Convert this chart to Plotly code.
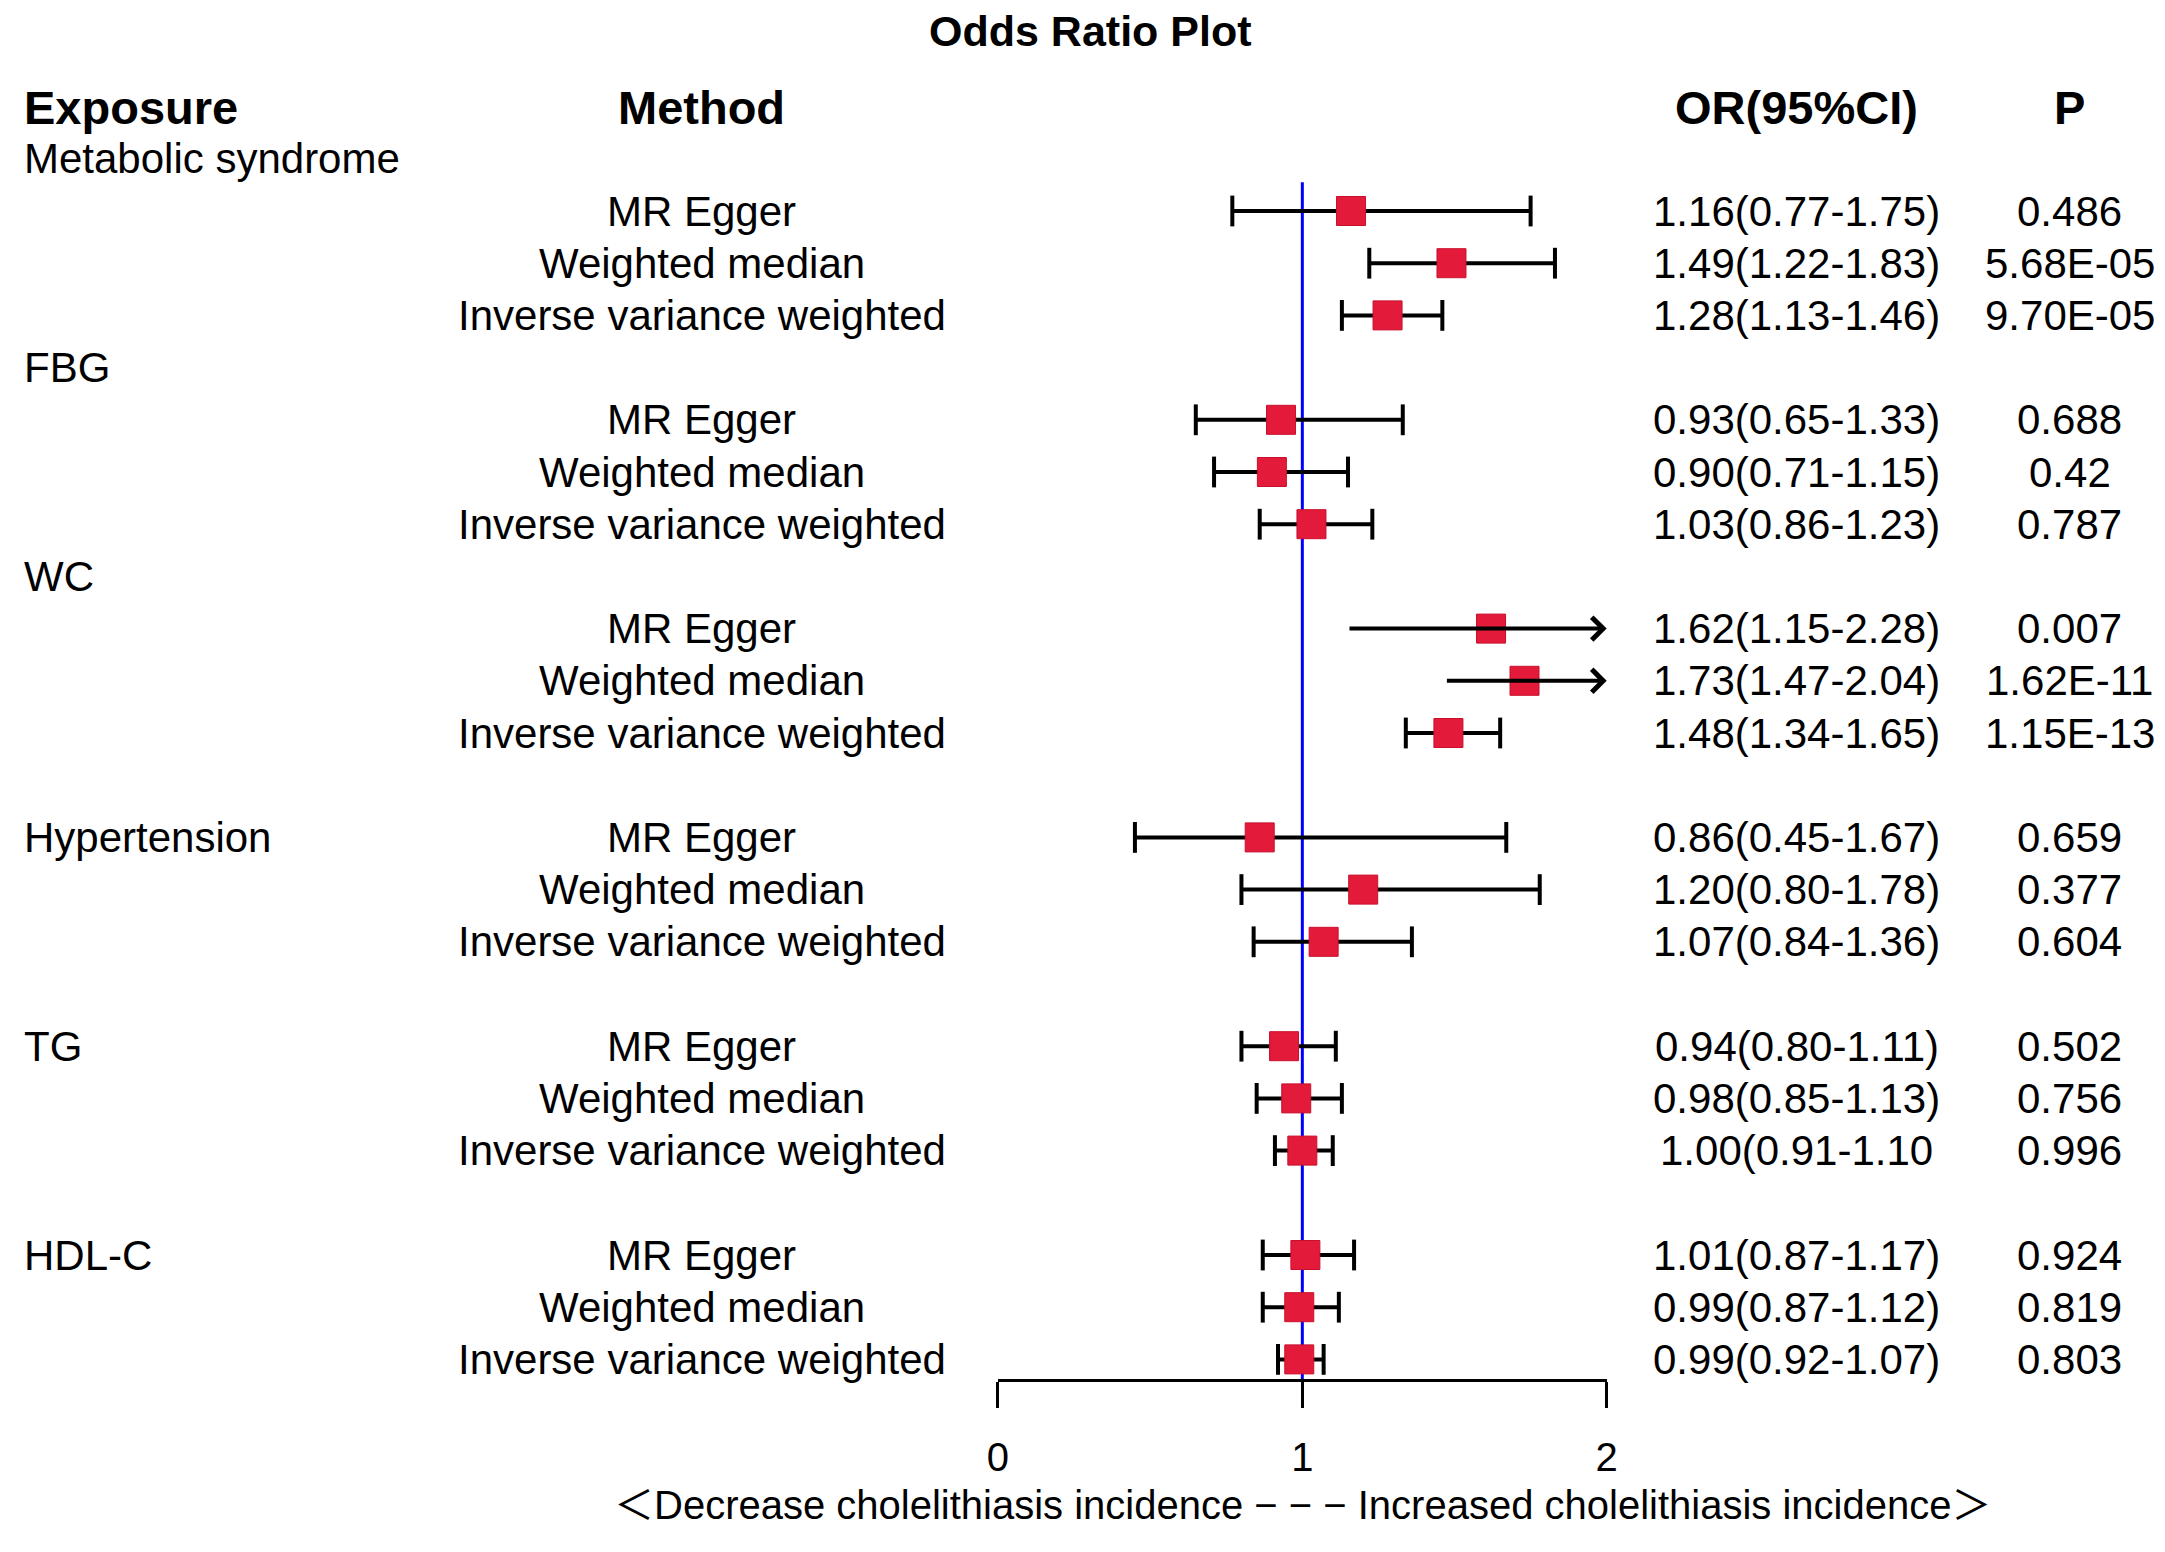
import plotly.graph_objects as go

# table rows as laid out in the source data (blank strings = spacer cells)
exposure = ["Metabolic syndrome", "", "", "", "FBG", "", "", "", "WC", "", "", "",
            "", "Hypertension", "", "", "", "TG", "", "", "", "HDL-C", "", ""]
method = ["", "MR Egger", "Weighted median", "Inverse variance weighted"] * 6

est = [None, 1.16, 1.49, 1.28, None, 0.93, 0.90, 1.03, None, 1.62, 1.73, 1.48,
       None, 0.86, 1.20, 1.07, None, 0.94, 0.98, 1.00, None, 1.01, 0.99, 0.99]
lower = [None, 0.77, 1.22, 1.13, None, 0.65, 0.71, 0.86, None, 1.15, 1.47, 1.34,
         None, 0.45, 0.80, 0.84, None, 0.80, 0.85, 0.91, None, 0.87, 0.87, 0.92]
upper = [None, 1.75, 1.83, 1.46, None, 1.33, 1.15, 1.23, None, 2.28, 2.04, 1.65,
         None, 1.67, 1.78, 1.36, None, 1.11, 1.13, 1.10, None, 1.17, 1.12, 1.07]

or_text = ["", "1.16(0.77-1.75)", "1.49(1.22-1.83)", "1.28(1.13-1.46)",
           "", "0.93(0.65-1.33)", "0.90(0.71-1.15)", "1.03(0.86-1.23)",
           "", "1.62(1.15-2.28)", "1.73(1.47-2.04)", "1.48(1.34-1.65)",
           "", "0.86(0.45-1.67)", "1.20(0.80-1.78)", "1.07(0.84-1.36)",
           "", "0.94(0.80-1.11)", "0.98(0.85-1.13)", "1.00(0.91-1.10",
           "", "1.01(0.87-1.17)", "0.99(0.87-1.12)", "0.99(0.92-1.07)"]
p_text = ["", "0.486", "5.68E-05", "9.70E-05", "", "0.688", "0.42", "0.787",
          "", "0.007", "1.62E-11", "1.15E-13", "", "0.659", "0.377", "0.604",
          "", "0.502", "0.756", "0.996", "", "0.924", "0.819", "0.803"]

headers = ["Exposure", "Method", "OR(95%CI)", "P"]
x_ticks = [0, 1, 2]
x_lim = [0, 2]
ref_line = 1
title = "Odds Ratio Plot"
arrow_lab = ["Decrease cholelithiasis incidence", "Increased cholelithiasis incidence"]

# layout in pixels
W, H = 2165, 1552
ROW0, ROWH = 150.8, 52.2
AXIS_Y = 1372
X0_PX, X2_PX = 989, 1604
FONT = "Liberation Sans, Arial, Noto Sans CJK SC, sans-serif"
col_x = [3, 690, 1796, 2072]
HEAD_Y, TITLE_Y, NOTE_Y = 99, 23, 1497
SQ = "#E41A3A"

rows = list(range(len(est)))
fig = go.Figure()

# CI lines (arrows for those running past the axis limit)
lx, ly, cx, cy = [], [], [], []
for r in rows:
    if est[r] is None:
        continue
    if upper[r] <= x_lim[1]:
        lx += [lower[r], upper[r], None]
        ly += [r, r, None]
        cx += [lower[r], upper[r]]
        cy += [r, r]
    else:
        fig.add_annotation(x=x_lim[1], y=r, ax=lower[r], ay=r, xref="x", yref="y",
                           axref="x", ayref="y", text="", showarrow=True,
                           arrowhead=4, arrowwidth=4, arrowsize=1.1, arrowcolor="black",
                           standoff=0)

fig.add_trace(go.Scatter(x=lx, y=ly, mode="lines", line=dict(color="black", width=4),
                         cliponaxis=False, hoverinfo="skip"))
fig.add_trace(go.Scatter(x=cx, y=cy, mode="markers", cliponaxis=False, hoverinfo="skip",
                         marker=dict(symbol="line-ns", size=22,
                                     line=dict(color="black", width=4))))
fig.add_trace(go.Scatter(x=[e for e in est if e is not None],
                         y=[r for r in rows if est[r] is not None],
                         mode="markers", cliponaxis=False,
                         marker=dict(symbol="square", size=29, color=SQ,
                                     line=dict(color="#C8102E", width=1))))

# reference line at OR = 1
fig.add_shape(type="line", xref="x", yref="y", x0=ref_line, x1=ref_line,
              y0=0.45, y1=(AXIS_Y - ROW0) / ROWH, line=dict(color="blue", width=3),
              layer="below")

# table text
for r in rows:
    if exposure[r]:
        fig.add_annotation(x=col_x[0] / W, y=r, xref="paper", yref="y", text=exposure[r],
                           xanchor="left", yanchor="middle", showarrow=False,
                           font=dict(size=42, family=FONT, color="black"))
    for txt, cxp in ((method[r], col_x[1]), (or_text[r], col_x[2]), (p_text[r], col_x[3])):
        if txt:
            fig.add_annotation(x=cxp / W, y=r, xref="paper", yref="y", text=txt,
                               xanchor="center", yanchor="middle", showarrow=False,
                               font=dict(size=42, family=FONT, color="black"))

for i, h in enumerate(headers):
    fig.add_annotation(x=col_x[i] / W, y=1 - HEAD_Y / H, xref="paper", yref="paper",
                       text="<b>%s</b>" % h, xanchor="left" if i == 0 else "center",
                       yanchor="middle", showarrow=False,
                       font=dict(size=47, family=FONT, color="black"))

fig.add_annotation(x=1083 / W, y=1 - TITLE_Y / H, xref="paper", yref="paper",
                   text="<b>%s</b>" % title, showarrow=False, yanchor="middle",
                   font=dict(size=43, family=FONT, color="black"))

fig.add_annotation(x=ref_line, y=1 - NOTE_Y / H, xref="x", yref="paper",
                   text="＜%s − − − %s＞" % (arrow_lab[0], arrow_lab[1]),
                   showarrow=False, yanchor="middle",
                   font=dict(size=40, family=FONT, color="black"))

fig.update_layout(
    width=W, height=H, margin=dict(l=0, r=0, t=0, b=0),
    paper_bgcolor="white", plot_bgcolor="white", showlegend=False,
    xaxis=dict(domain=[X0_PX / W, X2_PX / W], range=x_lim, anchor="free",
               position=1 - AXIS_Y / H, showline=True, linecolor="black", linewidth=3,
               ticks="outside", ticklen=26, tickwidth=3, tickcolor="black",
               tickvals=x_ticks, tickfont=dict(size=40, family=FONT, color="black"),
               showgrid=False, zeroline=False, ticklabelstandoff=15),
    yaxis=dict(domain=[0, 1], range=[(H - ROW0) / ROWH, -ROW0 / ROWH], visible=False,
               showgrid=False, zeroline=False),
)

fig.write_html("out.html")
